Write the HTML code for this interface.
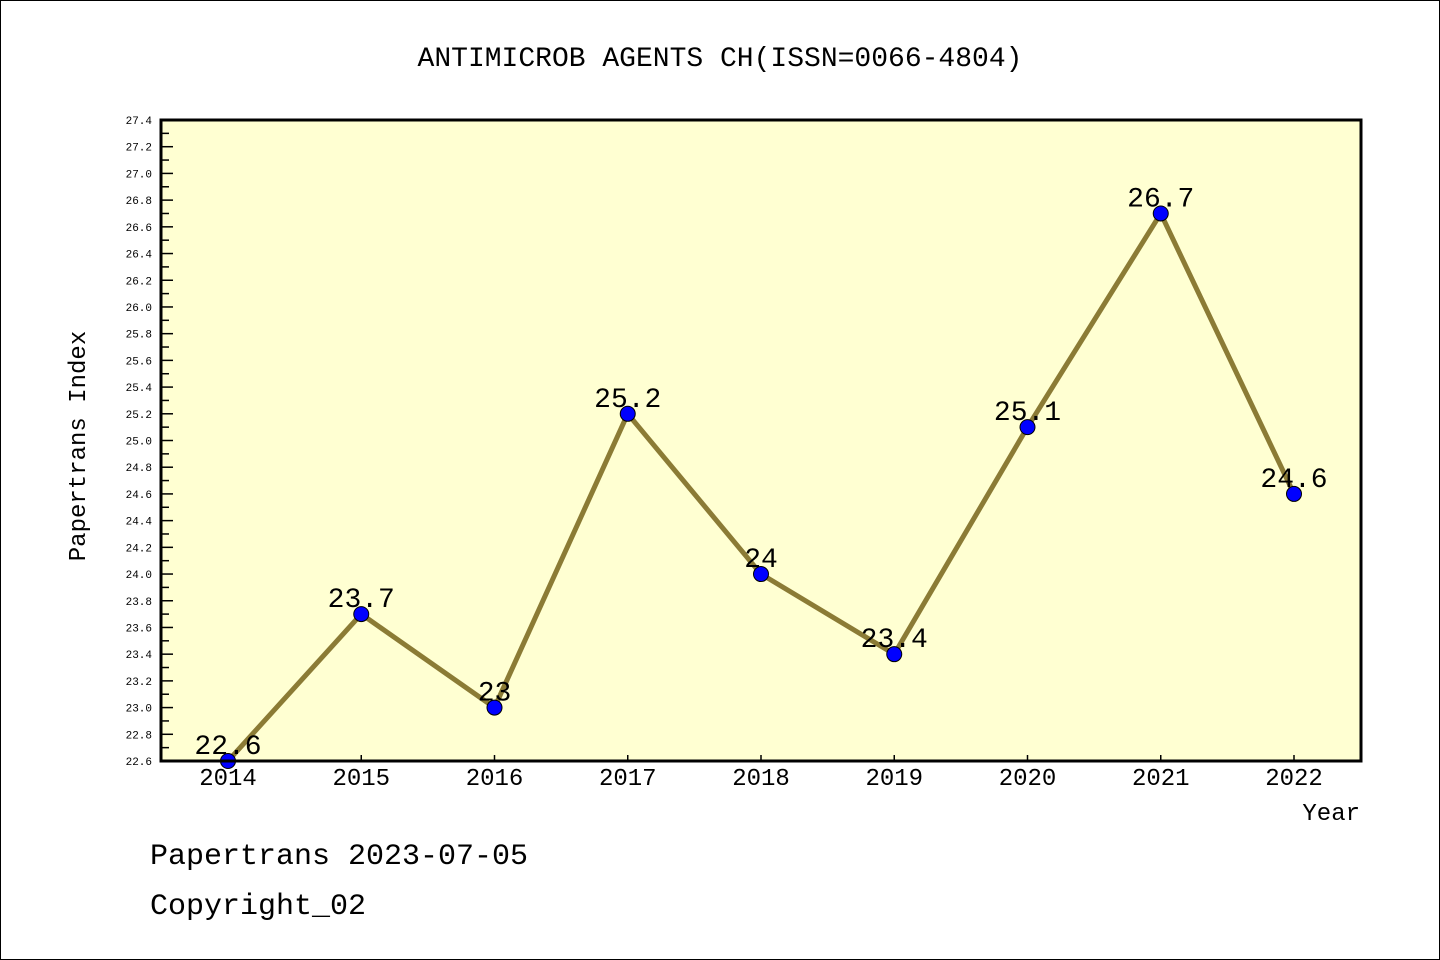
<!DOCTYPE html>
<html><head><meta charset="utf-8"><style>
html,body{margin:0;padding:0;background:#fff}
svg{display:block}
text{font-family:"Liberation Mono","DejaVu Sans Mono",monospace}
</style></head><body>
<svg id="chart" width="1440" height="960" xmlns="http://www.w3.org/2000/svg">
<rect x="0.5" y="0.5" width="1439" height="959" fill="#fff" stroke="#000"/>
<text x="720" y="66" text-anchor="middle" font-size="28">ANTIMICROB AGENTS CH(ISSN=0066-4804)</text>
<rect x="161" y="120" width="1200" height="641" fill="#ffffd2"/>
<g id="yaxis"></g>
<g id="xaxis"></g>
<g id="series"></g>
<rect x="161" y="120" width="1200" height="641" fill="none" stroke="#000" stroke-width="3"/>
<text transform="translate(85,446) rotate(-90)" text-anchor="middle" font-size="24">Papertrans Index</text>
<text x="1360" y="820" text-anchor="end" font-size="24">Year</text>
<text x="150" y="864" font-size="30">Papertrans 2023-07-05</text>
<text x="150" y="914" font-size="30">Copyright_02</text>
</svg>
<script>
const years=["2014","2015","2016","2017","2018","2019","2020","2021","2022"];
const values=[22.6,23.7,23.0,25.2,24.0,23.4,25.1,26.7,24.6];
const valueLabels=["22.6","23.7","23","25.2","24","23.4","25.1","26.7","24.6"];
const yMin=22.6,yMax=27.4,yStep=0.2;
const NS="http://www.w3.org/2000/svg";
function y(v){return 761-(v-yMin)/(yMax-yMin)*641;}
function x(i){return 228+i*133.25;}
function mk(tag,attrs,parent){const e=document.createElementNS(NS,tag);for(const k in attrs)e.setAttribute(k,attrs[k]);parent.appendChild(e);return e;}
const ya=document.getElementById('yaxis'),xa=document.getElementById('xaxis'),s=document.getElementById('series');
const n=Math.round((yMax-yMin)/yStep);
for(let i=0;i<=n;i++){
  const v=yMin+i*yStep,yy=y(v);
  const t=mk('line',{x1:161,x2:173,y1:yy,y2:yy,stroke:'#000','stroke-width':1.5},ya);
  
  
  if(i<n){const m=mk('line',{x1:161,x2:169,y1:(yy+y(v+yStep))/2,y2:(yy+y(v+yStep))/2,stroke:'#000','stroke-width':1.5},ya);
  
  }
  const l=mk('text',{x:152,y:yy+4,'text-anchor':'end','font-size':11,'font-family':'Liberation Sans,sans-serif'},ya);
  
  
  l.textContent=v.toFixed(1);
}
years.forEach((yr,i)=>{
  const t=mk('line',{x1:x(i),x2:x(i),y1:761,y2:755,stroke:'#000','stroke-width':1.5},xa);
  
  
  const l=mk('text',{x:x(i),y:785,'text-anchor':'middle','font-size':24,'font-family':'Liberation Sans,sans-serif'},xa);
  
  
  l.textContent=yr;
});
const pts=values.map((v,i)=>x(i)+','+y(v)).join(' ');
const pl=mk('polyline',{points:pts,fill:'none',stroke:'#8b7b35','stroke-width':5,'stroke-linejoin':'round'},s);


values.forEach((v,i)=>{
  const c=mk('circle',{cx:x(i),cy:y(v),r:7.5,fill:'#0000ff',stroke:'#000','stroke-width':1},s);
  
  
  const l=mk('text',{x:x(i),y:y(v)-7,'text-anchor':'middle','font-size':28,'font-family':'Liberation Sans,sans-serif'},s);
  
  
  l.textContent=valueLabels[i];
});
</script>
</body></html>
